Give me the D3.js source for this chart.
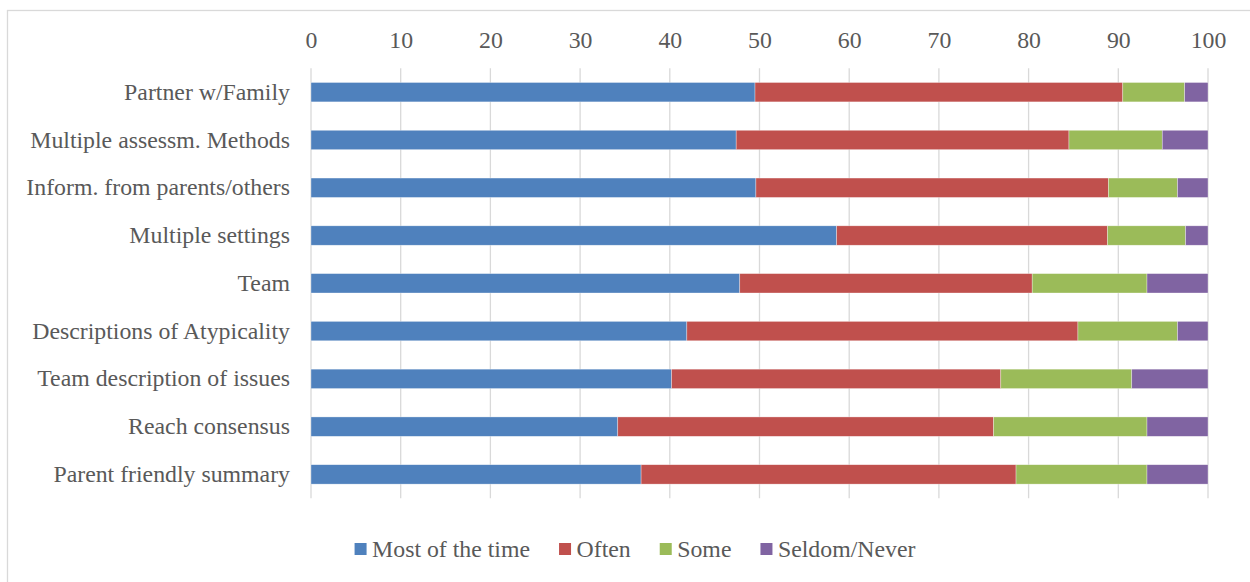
<!DOCTYPE html>
<html>
<head>
<meta charset="utf-8">
<script src="https://cdn.jsdelivr.net/npm/d3@7"></script>
<style>
  html, body { margin: 0; padding: 0; background: #fff; }
  svg { display: block; }
  text { font-family: "Liberation Serif", "Times New Roman", serif; fill: #595959; }
</style>
</head>
<body>
<svg id="chart" width="1250" height="582"></svg>
<script>
// Survey items (top to bottom)
const categories = [
  "Partner w/Family",
  "Multiple assessm. Methods",
  "Inform. from parents/others",
  "Multiple settings",
  "Team",
  "Descriptions of Atypicality",
  "Team description of issues",
  "Reach consensus",
  "Parent friendly summary"
];

// Percent of respondents per response level
const mostOfTheTime = [49.5, 47.4, 49.6, 58.6, 47.8, 41.9, 40.2, 34.2, 36.8];
const often         = [41.0, 37.1, 39.3, 30.2, 32.6, 43.6, 36.7, 41.9, 41.8];
const some          = [ 6.9, 10.4,  7.7,  8.7, 12.8, 11.1, 14.6, 17.1, 14.6];
const seldomNever   = [ 2.6,  5.1,  3.4,  2.5,  6.8,  3.4,  8.5,  6.8,  6.8];

const seriesNames = ["Most of the time", "Often", "Some", "Seldom/Never"];
const seriesColors = ["#4F81BD", "#C0504D", "#9BBB59", "#8064A2"];
const xTicks = [0, 10, 20, 30, 40, 50, 60, 70, 80, 90, 100];

const rows = categories.map((c, i) => ({
  category: c,
  "Most of the time": mostOfTheTime[i],
  "Often": often[i],
  "Some": some[i],
  "Seldom/Never": seldomNever[i]
}));

const svg = d3.select("#chart");
const fontSize = 23.8;

// chart area frame
svg.append("rect")
  .attr("x", 7.5).attr("y", 10.5)
  .attr("width", 1400).attr("height", 800)
  .attr("fill", "#fff")
  .attr("stroke", "#d9d9d9")
  .attr("stroke-width", 1.3);

const x = d3.scaleLinear().domain([0, 100]).range([311, 1208]);
const y = d3.scaleBand()
  .domain(categories)
  .range([68.3, 498.3])
  .paddingInner(0.594)
  .paddingOuter(0.297);

// vertical gridlines
svg.append("g")
  .selectAll("line")
  .data(xTicks)
  .join("line")
  .attr("x1", d => x(d)).attr("x2", d => x(d))
  .attr("y1", 68.3).attr("y2", 498.3)
  .attr("stroke", "#d9d9d9")
  .attr("stroke-width", 1.3);

// stacked bars
const stack = d3.stack().keys(seriesNames);
const layers = stack(rows);
const color = d3.scaleOrdinal().domain(seriesNames).range(seriesColors);

svg.append("g")
  .selectAll("g")
  .data(layers)
  .join("g")
  .attr("fill", d => color(d.key))
  .selectAll("rect")
  .data(d => d)
  .join("rect")
  .attr("x", d => x(d[0]))
  .attr("width", d => x(d[1]) - x(d[0]))
  .attr("y", d => y(d.data.category))
  .attr("height", y.bandwidth())
  .attr("stroke", "rgba(255,255,255,0.55)")
  .attr("stroke-width", 0.6);

// top value axis
const xAxis = svg.append("g")
  .attr("transform", "translate(0,68.3)")
  .call(d3.axisTop(x).tickValues(xTicks).tickSize(0).tickPadding(20).tickFormat(d3.format("d")));
xAxis.select(".domain").remove();
xAxis.selectAll("text")
  .style("font-family", "'Liberation Serif', 'Times New Roman', serif")
  .style("font-size", fontSize + "px")
  .attr("fill", "#595959");

// category axis
const yAxis = svg.append("g")
  .attr("transform", "translate(311,0)")
  .call(d3.axisLeft(y).tickSize(0).tickPadding(21));
yAxis.select(".domain").remove();
yAxis.selectAll("text")
  .style("font-family", "'Liberation Serif', 'Times New Roman', serif")
  .style("font-size", fontSize + "px")
  .attr("fill", "#595959");

// legend
const legend = svg.append("g").attr("transform", "translate(0,549)");
let cursor = 0;
seriesNames.forEach((name, i) => {
  const g = legend.append("g");
  g.append("rect")
    .attr("x", 0).attr("y", -6)
    .attr("width", 12).attr("height", 12)
    .attr("fill", seriesColors[i]);
  const t = g.append("text")
    .attr("x", 17.5)
    .attr("dy", "0.33em")
    .style("font-size", fontSize + "px")
    .text(name);
  const w = 17.5 + t.node().getComputedTextLength();
  g.attr("transform", `translate(${cursor},0)`);
  cursor += w + 29;
});
const legendWidth = cursor - 29;
legend.attr("transform", `translate(${635 - legendWidth / 2},549)`);
</script>
</body>
</html>
